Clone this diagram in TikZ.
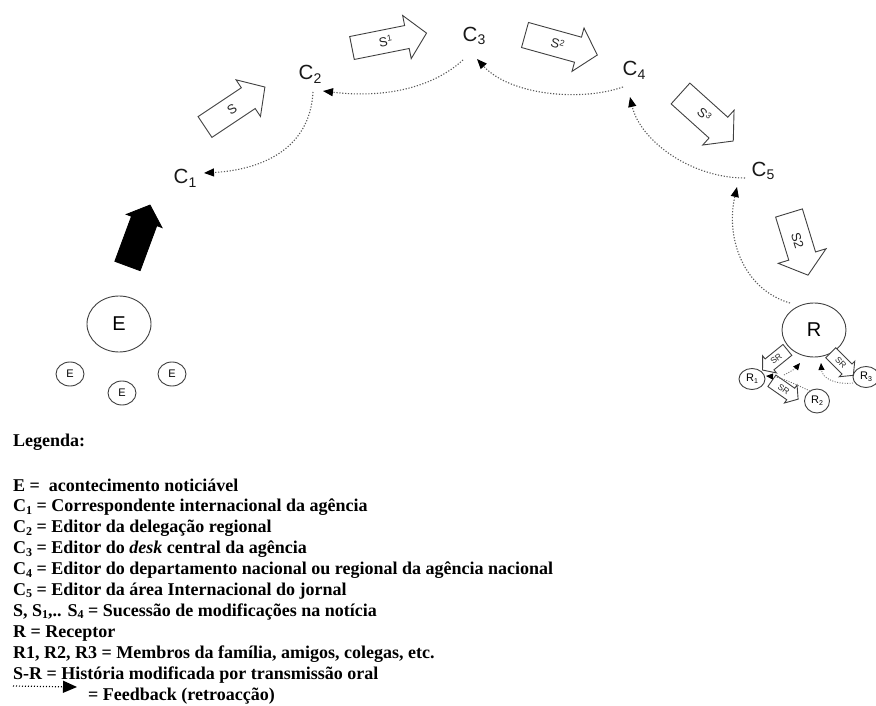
\documentclass[tikz,border=0pt]{standalone}
\usepackage{fontspec}
\setmainfont{Liberation Serif}
\newfontfamily\diagfont{Liberation Sans}
\usetikzlibrary{arrows.meta,calc,shapes.geometric}

% subscripts and superscripts for the diagram labels and the legend
\newcommand\dsb[1]{\raisebox{-0.35ex}{\fontsize{14}{14}\selectfont #1}}
\newcommand\dsp[1]{\raisebox{0.55ex}{\fontsize{8.5}{8.5}\selectfont #1}}
\newcommand\rsb[1]{\raisebox{-0.3ex}{\fontsize{7}{7}\selectfont #1}}
\newcommand\lsb[1]{\raisebox{-0.3ex}{\fontsize{12}{12}\selectfont #1}}

% block arrow: name, tail point, angle, length, shaft half width,
% head half width, head length, style, label
\newcommand\blockarr[9]{%
  \begin{scope}[shift={#2},rotate=#3]
    \draw[#8] (0,-#5) -- ({#4-#7},-#5) -- ({#4-#7},-#6) -- (#4,0)
      -- ({#4-#7},#6) -- ({#4-#7},#5) -- (0,#5) -- cycle;
    \node[arrowtext,rotate=#3] (#1) at ({0.45*#4},0) {#9};
  \end{scope}}

\tikzset{
  outline/.style={draw=black!75, line width=0.9pt},
  whitearr/.style={outline, fill=white, line join=miter},
  blackarr/.style={draw=black, fill=black, line width=0.8pt},
  arrowtext/.style={font=\diagfont\fontsize{13}{13}\selectfont, inner sep=0pt, text=black!85},
  clabel/.style={font=\diagfont\fontsize{20.5}{20}\selectfont, inner sep=0pt, text=black!90},
  bigcirc/.style={outline, ellipse, inner sep=0pt, font=\diagfont\fontsize{20}{20}\selectfont},
  smallcirc/.style={outline, ellipse, inner sep=0pt, font=\diagfont\fontsize{11}{11}\selectfont},
  fb/.style={draw=black!65, line width=1.1pt, dash pattern=on 1.2pt off 1.7pt,
    -{Triangle[length=10pt,width=8pt,color=black]}},
  fbsmall/.style={draw=black!55, line width=0.9pt, dash pattern=on 1pt off 1.5pt,
    -{Triangle[length=7pt,width=6pt,color=black]}},
  leg/.style={font=\bfseries\fontsize{18}{21}\selectfont, inner sep=0pt, anchor=base west},
}

\begin{document}
\begin{tikzpicture}[x=1pt,y=-1pt]
\useasboundingbox (0,0) rectangle (876,706);
\clip (0,0) rectangle (876,706);

% relay stations
\node[clabel] (c1) at (185,178) {C\dsb{1}};
\node[clabel] (c2) at (310,74) {C\dsb{2}};
\node[clabel] (c3) at (474,36) {C\dsb{3}};
\node[clabel] (c4) at (634,70) {C\dsb{4}};
\node[clabel] (c5) at (763,171) {C\dsb{5}};

% event
\node[bigcirc, minimum width=64, minimum height=56] (E) at (119,324) {E};
\node[smallcirc, minimum width=28, minimum height=24] (e1) at (70,374) {E};
\node[smallcirc, minimum width=28, minimum height=24] (e2) at (122,393) {E};
\node[smallcirc, minimum width=28, minimum height=24] (e3) at (172,374) {E};

% receiver and its circle
\node[bigcirc, minimum width=64, minimum height=54] (R) at (814,330) {R};
\node[smallcirc, minimum width=26, minimum height=21] (r1) at (752,379) {R\rsb{1}};
\node[smallcirc, minimum width=25, minimum height=24] (r2) at (817,401) {R\rsb{2}};
\node[smallcirc, minimum width=26, minimum height=21] (r3) at (866,377) {R\rsb{3}};

% successive modifications of the story
\blockarr{ev}{(127.5,266)}{69.7}{65}{13.5}{19}{17}{blackarr}{}
\blockarr{s0}{(205,127)}{33.7}{72}{12.5}{22}{20}{whitearr}{S}
\blockarr{s1}{(352,48)}{11.3}{76}{11.7}{22}{20}{whitearr}{S\dsp{1}}
\blockarr{s2}{(525,35)}{-15.5}{75}{13}{22.5}{20}{whitearr}{S\dsp{2}}
\blockarr{s3}{(680.5,93.5)}{-42}{71}{14}{23.4}{20}{whitearr}{S\dsp{3}}
\blockarr{s4}{(789,213)}{-73}{65}{14}{25}{20}{whitearr}{S2}

% oral retransmission
\tikzset{arrowtext/.append style={font=\diagfont\fontsize{8.5}{8.5}\selectfont}}
\blockarr{sr1}{(787.4,349.9)}{-141}{32}{7}{11}{9}{whitearr}{\rotatebox{180}{SR}}
\blockarr{sr2}{(771.9,380.8)}{-35}{32}{7}{11}{9}{whitearr}{SR}
\blockarr{sr3}{(830.7,352.7)}{-45}{32}{7}{11}{9}{whitearr}{SR}

% feedback
\draw[fb] ($(c2)+(3,18)$) .. controls (310,150) and (260,170) .. ($(c1)+(19,-5)$);
\draw[fb] ($(c3)+(-11,24)$) .. controls (430,90) and (380,98) .. ($(c2)+(13,17)$);
\draw[fb] ($(c4)+(-11,17)$) .. controls (580,102) and (510,95) .. ($(c3)+(3,23)$);
\draw[fb] ($(c5)+(-18,7)$) .. controls (690,178) and (640,140) .. ($(c4)+(-4,27)$);
\draw[fb] ($(R)+(-24,-27)$) .. controls (745,290) and (725,240) .. ($(c5)+(-26,16)$);

\draw[fbsmall] ($(r1)+(32,-4)$) .. controls (790,372) and (796,368) .. ($(R)+(-14,33)$);
\draw[fbsmall] ($(r2)+(-7,-10)$) .. controls (795,384) and (780,377) .. ($(r1)+(14,-3)$);
\draw[fbsmall] ($(r3)+(-13,6)$) .. controls (835,385) and (822,378) .. ($(R)+(7,33)$);

% legend
\node[leg] (lg) at (13,446) {Legenda:};
\node[leg] (l0) at (13,491) {E =\ \ acontecimento noticiável};
\node[leg] (l1) at (13,511.9) {C\lsb{1} = Correspondente internacional da agência};
\node[leg] (l2) at (13,532.8) {C\lsb{2} = Editor da delegação regional};
\node[leg] (l3) at (13,553.7) {C\lsb{3} = Editor do \textit{desk} central da agência};
\node[leg] (l4) at (13,574.6) {C\lsb{4} = Editor do departamento nacional ou regional da agência nacional};
\node[leg] (l5) at (13,595.5) {C\lsb{5} = Editor da área Internacional do jornal};
\node[leg] (l6) at (13,616.4) {S, S\lsb{1},.. S\lsb{4} = Sucessão de modificações na notícia};
\node[leg] (l7) at (13,637.3) {R = Receptor};
\node[leg] (l8) at (13,658.2) {R1, R2, R3 = Membros da família, amigos, colegas, etc.};
\node[leg] (l9) at (13,679.1) {S-R = História modificada por transmissão oral};
\node[leg] (l10) at (88,700) {= Feedback (retroacção)};
\coordinate (fbl) at (13,686);
\coordinate (fbr) at (77,687);
\draw[black, line width=1.2pt, dash pattern=on 1pt off 2pt,
  -{Triangle[length=14pt,width=12pt,color=black]}] (fbl) -- (fbr);
\end{tikzpicture}
\end{document}
